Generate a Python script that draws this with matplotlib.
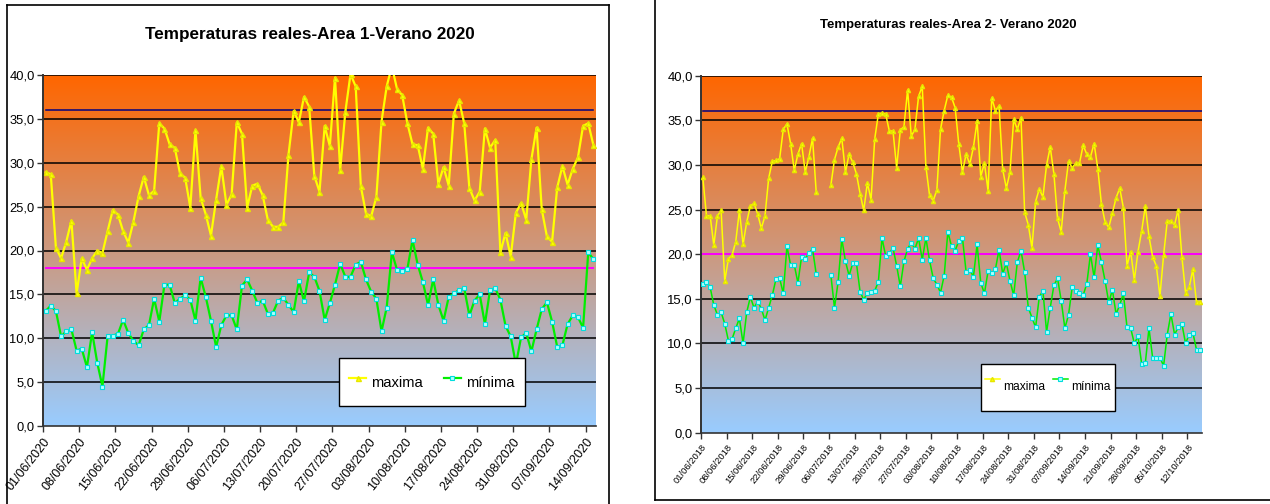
import datetime as dt
import numpy as np
import matplotlib
matplotlib.use("Agg")
import matplotlib.pyplot as plt
from matplotlib.colors import LinearSegmentedColormap
from matplotlib.lines import Line2D
from matplotlib import font_manager

# ---- Datos Area 1 (verano 2020) ----
inicio_a1 = dt.date(2020, 6, 1)
maxima_a1 = [28.9, 28.7, 20.3, 19.1, 21.0, 23.4, 15.1, 19.1, 17.8, 19.1,
             20.0, 19.7, 22.2, 24.6, 24.1, 22.2, 20.9, 23.3, 26.2, 28.4,
             26.3, 26.8, 34.5, 33.9, 32.1, 31.7, 28.8, 28.3, 24.9, 33.7,
             26.0, 24.1, 21.7, 25.8, 29.6, 25.2, 26.4, 34.6, 33.3, 24.9,
             27.4, 27.6, 26.3, 23.5, 22.7, 22.7, 23.2, 30.9, 35.9, 34.6,
             37.5, 36.4, 28.5, 26.7, 34.2, 31.9, 39.7, 29.2, 35.8, 40.1,
             38.7, 27.3, 24.2, 23.9, 26.1, 34.7, 38.7, 41.0, 38.4, 37.7,
             34.5, 32.1, 32.0, 29.3, 34.0, 33.3, 27.6, 29.5, 27.4, 35.6,
             37.1, 34.5, 27.1, 25.7, 26.7, 33.9, 31.7, 32.6, 19.8, 22.0,
             19.3, 24.3, 25.4, 23.5, 30.4, 34.0, 24.7, 21.6, 21.0, 27.2,
             29.6, 27.5, 29.3, 30.6, 34.2, 34.5, 32.0]
minima_a1 = [13.1, 13.7, 13.1, 10.2, 10.8, 11.0, 8.6, 8.8, 6.7, 10.7,
             7.2, 4.5, 10.2, 10.3, 10.5, 12.1, 10.6, 9.7, 9.2, 11.0,
             11.5, 14.5, 11.9, 16.1, 16.1, 14.0, 14.5, 14.9, 14.4, 12.0,
             16.9, 14.7, 12.0, 9.0, 11.5, 12.6, 12.6, 11.0, 16.0, 16.7,
             15.4, 14.0, 14.3, 12.8, 12.9, 14.3, 14.6, 13.8, 13.0, 16.5,
             14.2, 17.5, 17.0, 15.4, 12.1, 14.0, 16.1, 18.5, 17.0, 17.0,
             18.4, 18.7, 16.7, 15.3, 14.5, 10.8, 13.5, 19.8, 17.8, 17.7,
             17.9, 21.2, 18.4, 16.4, 13.8, 16.7, 13.8, 12.0, 14.7, 15.1,
             15.5, 15.7, 12.6, 14.3, 15.0, 11.6, 15.5, 15.7, 14.4, 11.4,
             10.2, 7.0, 10.1, 10.6, 8.5, 11.0, 13.3, 14.1, 11.9, 9.0,
             9.2, 11.6, 12.6, 12.4, 11.2, 19.8, 19.0]
umbral_alto_a1 = 36
umbral_bajo_a1 = 18

# ---- Datos Area 2 ----
nan = np.nan
inicio_a2 = dt.date(2018, 6, 1)
maxima_a2 = [28.6, 24.3, 24.3, 21.0, 24.3, 24.9, 17.0, 19.5, 19.9, 21.4,
             24.9, 21.1, 23.6, 25.4, 25.7, 24.5, 22.9, 24.3, 28.5, 30.4,
             30.5, 30.7, 34.0, 34.6, 32.4, 29.4, 31.2, 32.4, 29.2, 30.9,
             33.0, 27.0, nan, nan, nan, 27.7, 30.6, 32.0, 33.0, 29.2,
             31.2, 30.3, 29.0, 26.8, 24.9, 28.0, 26.1, 32.9, 35.7, 35.8,
             35.7, 33.8, 33.8, 29.7, 33.9, 34.3, 38.4, 33.2, 34.0, 37.7,
             38.8, 29.8, 26.6, 26.0, 27.2, 34.0, 36.1, 37.8, 37.6, 36.4,
             32.3, 29.2, 31.2, 30.1, 32.0, 34.9, 28.7, 30.2, 27.1, 37.5,
             36.1, 36.6, 29.5, 27.4, 29.2, 35.1, 34.0, 35.3, 24.7, 23.3,
             20.7, 25.9, 27.3, 26.4, 30.0, 32.0, 29.0, 24.0, 22.5, 27.1,
             30.4, 29.7, 30.2, 30.2, 32.2, 31.2, 30.9, 32.4, 29.6, 25.6,
             23.6, 23.0, 24.6, 26.3, 27.4, 25.2, 18.7, 20.3, 17.1, 20.3,
             22.6, 25.4, 22.0, 19.7, 18.7, 15.3, 19.9, 23.7, 23.7, 23.3,
             25.0, 19.7, 15.7, 16.3, 18.3, 14.6, 14.7]
minima_a2 = [16.7, 16.9, 16.3, 14.3, 13.2, 13.5, 12.2, 10.3, 10.5, 11.7,
             12.8, 10.0, 13.5, 15.2, 14.0, 14.7, 13.9, 12.6, 14.0, 15.4,
             17.2, 17.3, 15.6, 20.9, 18.8, 18.8, 16.8, 19.7, 19.5, 20.1,
             20.6, 17.8, nan, nan, nan, 17.7, 14.0, 16.9, 21.7, 19.2,
             17.6, 19.0, 19.0, 15.8, 14.9, 15.7, 15.8, 15.9, 16.9, 21.8,
             19.8, 20.1, 20.7, 18.7, 16.4, 19.2, 20.6, 21.3, 20.6, 21.8,
             19.4, 21.8, 19.3, 17.3, 16.6, 15.7, 17.6, 22.5, 20.9, 20.4,
             21.5, 21.8, 18.0, 18.2, 17.5, 21.1, 16.8, 15.6, 18.1, 17.9,
             18.3, 20.5, 17.8, 19.0, 17.0, 15.4, 19.1, 20.4, 18.0, 14.0,
             12.9, 11.8, 15.2, 15.9, 11.3, 14.0, 16.5, 17.3, 14.8, 11.7,
             13.2, 16.3, 15.9, 15.7, 15.4, 16.7, 20.0, 17.4, 21.0, 19.1,
             17.0, 14.6, 16.0, 13.3, 14.3, 15.6, 11.8, 11.7, 10.0, 10.8,
             7.7, 7.8, 11.7, 8.4, 8.4, 8.4, 7.5, 11.0, 13.3, 11.0,
             11.8, 12.2, 10.0, 11.0, 11.2, 9.3, 9.3]
umbral_alto_a2 = 36
umbral_bajo_a2 = 20

marcas_y = [0, 5, 10, 15, 20, 25, 30, 35, 40]

# fuente estrecha tipo Arial Narrow si existe
try:
    font_manager.findfont("Liberation Sans Narrow", fallback_to_default=False)
    fuente = "Liberation Sans Narrow"
    k = 1.0
except ValueError:
    fuente = "Liberation Sans"
    k = 0.82
plt.rcParams["font.family"] = [fuente, "DejaVu Sans"]

fondo = LinearSegmentedColormap.from_list("fondo", ["#99CCFF", "#FF6600"])


def panel(ax, maxima, minima, inicio, alto, bajo, n_dias, lw, ms,
          fs_y, fs_x, caja_ley, opciones_ley, extender):
    n = len(maxima)
    x = np.arange(n) + 0.5
    ax.set_xlim(0, n_dias)
    ax.set_ylim(0, 40)
    grad = np.linspace(0, 1, 256).reshape(-1, 1)
    ax.imshow(grad, extent=[0, n_dias, 0, 40], origin="lower", aspect="auto",
              cmap=fondo, zorder=0)
    for v in marcas_y[1:]:
        ax.axhline(v, color="black", lw=1.1, zorder=1)
    xr = [0.5, n_dias + 1] if extender else [0.5, n - 0.5]
    ax.plot(xr, [alto, alto], color="#000080", lw=1.1, zorder=2)
    ax.plot(xr, [bajo, bajo], color="#FF00FF", lw=1.4, zorder=2)
    l1, = ax.plot(x, maxima, color="#FFFF00", lw=lw, marker="^", ms=ms,
                  mfc="#FFFF00", mec="#E6E600", zorder=3, label="maxima")
    l2, = ax.plot(x, minima, color="#00EE00", lw=lw, marker="s", ms=ms * 0.8,
                  mfc="#B0FFFF", mec="#00DDDD", mew=0.8, zorder=3,
                  label="mínima")
    ax.set_yticks(marcas_y)
    ax.set_yticklabels([f"{v:.1f}".replace(".", ",") for v in marcas_y],
                       fontsize=fs_y)
    pos = np.arange(0, n_dias - 1, 7)
    etiquetas = [(inicio + dt.timedelta(days=int(p))).strftime("%d/%m/%Y")
                 for p in pos]
    ax.set_xticks(pos)
    ax.set_xticklabels(etiquetas, rotation=52, ha="right",
                       rotation_mode="anchor", fontsize=fs_x)
    ax.tick_params(direction="out", length=4, width=1, color="#333333",
                   pad=2)
    ax.tick_params(axis="x", pad=3)
    for s in ["top", "right"]:
        ax.spines[s].set_visible(False)
    ax.spines["left"].set_color("#333333")
    ax.spines["left"].set_linewidth(1.4)
    ax.spines["bottom"].set_color("#333333")
    ax.spines["bottom"].set_linewidth(1.2)
    ley = ax.legend(handles=[l1, l2], loc="center", ncol=2,
                    bbox_to_anchor=caja_ley, frameon=True, fancybox=False,
                    framealpha=1, edgecolor="black", **opciones_ley)
    ley.get_frame().set_linewidth(1.0)
    ley.set_zorder(5)


fig = plt.figure(figsize=(12.7, 5.04), dpi=100)

# Area 1
ax1 = fig.add_axes([43 / 1270, 78 / 504, 553 / 1270, 351 / 504])
panel(ax1, maxima_a1, minima_a1, inicio_a1, umbral_alto_a1, umbral_bajo_a1,
      107, 1.6, 3.6, 11.3 * k, 11 * k, (0.703, 0.125),
      dict(fontsize=13 * k, handlelength=1.15, handleheight=2.4,
           handletextpad=0.35, columnspacing=1.4, borderpad=0.7),
      False)
fig.text(310 / 1270, 1 - 35 / 504, "Temperaturas reales-Area 1-Verano 2020",
         ha="center", va="center", fontsize=15 * k, fontweight="bold")

# Area 2
ax2 = fig.add_axes([701 / 1270, 71.3 / 504, 501 / 1270, 357 / 504])
panel(ax2, maxima_a2, minima_a2, inicio_a2, umbral_alto_a2, umbral_bajo_a2,
      137, 1.1, 3.0, 11.5 * k, 8.2 * k, (0.692, 0.127),
      dict(fontsize=10.5 * k, handlelength=1.25, handleheight=4.6,
           handletextpad=0.3, columnspacing=0.6, borderpad=0.35),
      True)
fig.text(948 / 1270, 1 - 25 / 504, "Temperaturas reales-Area 2- Verano 2020",
         ha="center", va="center", fontsize=11.5 * k, fontweight="bold")

# marcos de los graficos
W, H = 1270, 504
marcos = [
    ([7, 7], [5, 504]), ([7, 609], [5, 5]), ([609, 609], [5, 504]),
    ([655, 655], [0, 500]), ([655, 1270], [500, 500]),
]
for xs, ys in marcos:
    fig.add_artist(Line2D([v / W for v in xs], [1 - v / H for v in ys],
                          color="black", lw=1.2))

fig.savefig("out.png", dpi=100)
